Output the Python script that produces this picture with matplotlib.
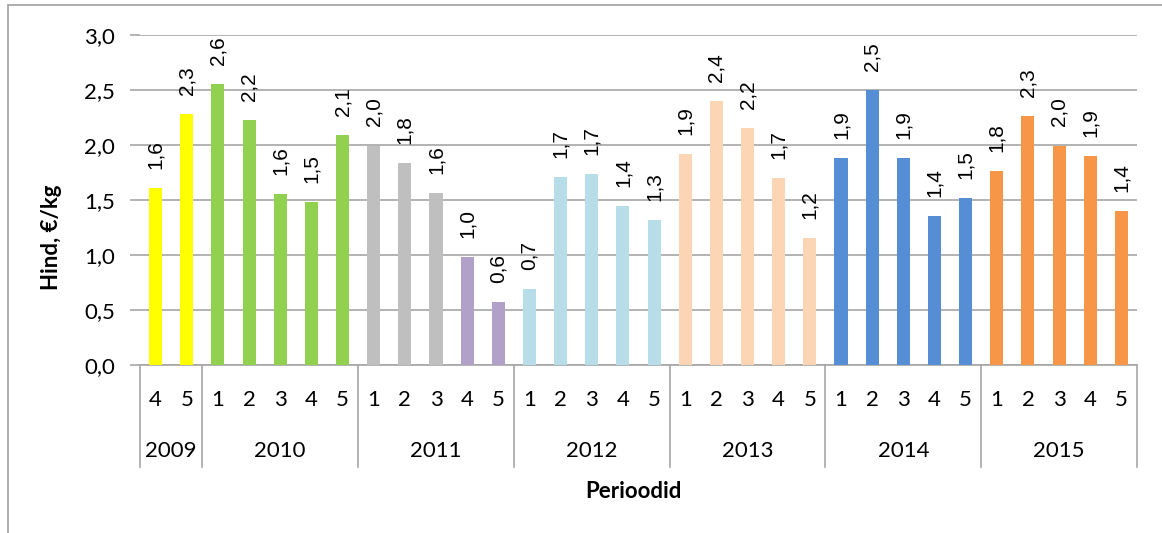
import numpy as np
import matplotlib.pyplot as plt
from matplotlib.patches import Rectangle

# data
years = ['2009', '2010', '2011', '2012', '2013', '2014', '2015']
periods = [[4, 5], [1, 2, 3, 4, 5], [1, 2, 3, 4, 5], [1, 2, 3, 4, 5],
           [1, 2, 3, 4, 5], [1, 2, 3, 4, 5], [1, 2, 3, 4, 5]]
prices = [1.606, 2.282,
          2.555, 2.227, 1.555, 1.482, 2.09,
          1.994, 1.836, 1.564, 0.982, 0.573,
          0.691, 1.709, 1.736, 1.445, 1.318,
          1.918, 2.40, 2.155, 1.70, 1.155,
          1.882, 2.50, 1.882, 1.355, 1.518,
          1.764, 2.264, 1.995, 1.90, 1.40]
year_colors = ['#FFFF00', '#92D050', '#BFBFBF', '#B7DEE8', '#FCD5B5', '#558ED5', '#F79646']
# 2011 periods 4 and 5 are drawn in a different colour
special = {(2, 3): '#B1A0C7', (2, 4): '#B1A0C7'}

tick_font = 'Lato'
label_font = 'Liberation Sans'
grid_c = '#A6A6A6'
fs = 16

colors = []
for yi, pl in enumerate(periods):
    for pi in range(len(pl)):
        colors.append(special.get((yi, pi), year_colors[yi]))

x = np.arange(len(prices))

fig = plt.figure(figsize=(11.62, 5.33), dpi=100)
fig.patches.append(Rectangle((0.007, -0.5), 2, 0.5 + 1 - 5 / 533, transform=fig.transFigure,
                             fill=False, edgecolor='#A0A0A0', linewidth=1.2))
ax = fig.add_axes([140 / 1162, 1 - 365 / 533, 997 / 1162, 330 / 533])

ax.bar(x, prices, width=0.42, color=colors, zorder=3)
ax.set_xlim(-0.5, len(prices) - 0.5)
ax.set_ylim(0, 3.0)

yt = np.arange(0, 3.01, 0.5)
ax.set_yticks(yt)
ax.set_yticklabels([f'{v:.1f}'.replace('.', ',') for v in yt], fontfamily=tick_font, fontsize=fs)
ax.tick_params(axis='y', length=7, color=grid_c, width=1.2, pad=11)
ax.set_xticks([])
ax.grid(axis='y', color=grid_c, linewidth=1.2, zorder=0)
for s in ['top', 'right', 'left']:
    ax.spines[s].set_visible(False)
ax.spines['bottom'].set_color(grid_c)
ax.spines['bottom'].set_linewidth(1.2)

# value labels
for xi, v in zip(x, prices):
    ax.annotate(f'{v:.1f}'.replace('.', ','), (xi, v), xytext=(0, 14), textcoords='offset points',
                rotation=90, ha='center', va='bottom', fontfamily=label_font, fontsize=15)

# two-level category axis
tr = ax.get_xaxis_transform()
h = 330
start = -0.5
ax.plot([start, start], [0, -102 / h], transform=tr, color=grid_c, lw=1.2, clip_on=False)
i = 0
for yr, pl in zip(years, periods):
    for p in pl:
        ax.text(i, -35 / h, str(p), transform=tr, ha='center', va='center',
                fontfamily=tick_font, fontsize=fs)
        i += 1
    end = i - 0.5
    ax.text((start + end) / 2, -86 / h, yr, transform=tr, ha='center', va='center',
            fontfamily=tick_font, fontsize=fs)
    ax.plot([end, end], [0, -102 / h], transform=tr, color=grid_c, lw=1.2, clip_on=False)
    start = end

fig.text(633 / 1162, 1 - 491 / 533, 'Perioodid', ha='center', va='center',
         fontfamily=tick_font, fontweight='bold', fontsize=fs)
fig.text(52 / 1162, 1 - 237 / 533, 'Hind, €/kg', ha='center', va='center', rotation=90,
         fontfamily=tick_font, fontweight='bold', fontsize=fs)

fig.savefig('out.png', dpi=100)
